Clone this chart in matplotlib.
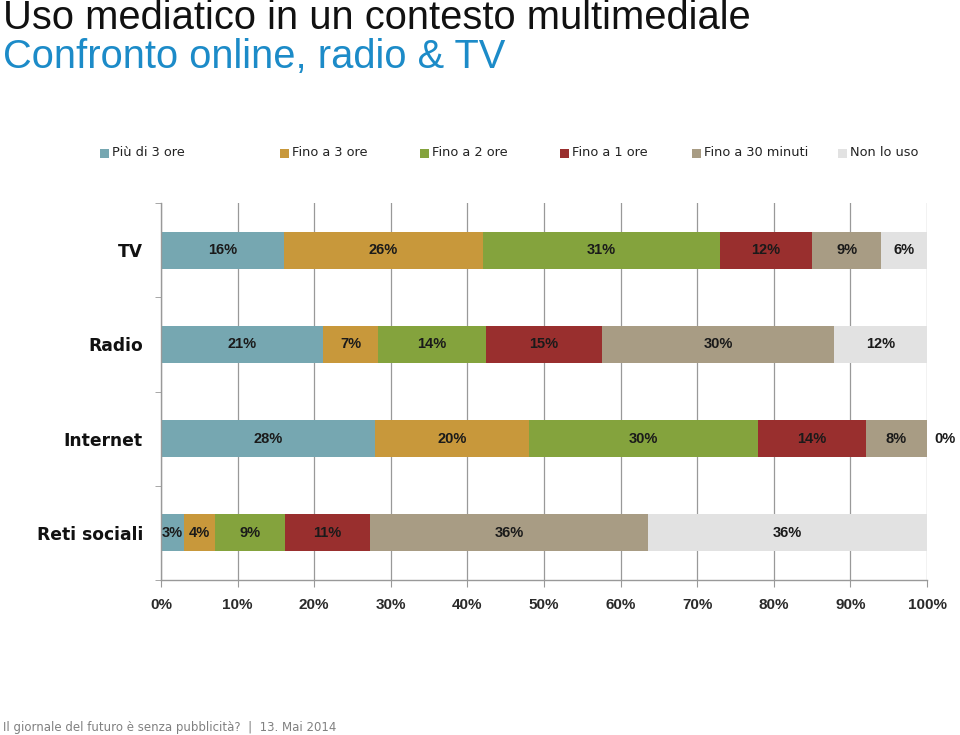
import matplotlib
matplotlib.use("Agg")
import matplotlib.pyplot as plt
from matplotlib.patches import Rectangle
import numpy as np

categories = ["TV", "Radio", "Internet", "Reti sociali"]
series_names = ["Più di 3 ore", "Fino a 3 ore", "Fino a 2 ore", "Fino a 1 ore",
                "Fino a 30 minuti", "Non lo uso"]
piu_di_3 = [16, 21, 28, 3]
fino_3 = [26, 7, 20, 4]
fino_2 = [31, 14, 30, 9]
fino_1 = [12, 15, 14, 11]
fino_30 = [9, 30, 8, 36]
non_lo_uso = [6, 12, 0, 36]
colors = ["#76A7B1", "#C8983B", "#84A33D", "#992F2E", "#A89C84", "#E2E2E2"]
x_ticks = [0, 10, 20, 30, 40, 50, 60, 70, 80, 90, 100]

series = [piu_di_3, fino_3, fino_2, fino_1, fino_30, non_lo_uso]
data = np.array(series, dtype=float)
totals = data.sum(axis=0)
share = data / totals * 100

fig = plt.figure(figsize=(9.6, 7.35), dpi=100)
ax = fig.add_axes([161/960, 1-580/735, (927-161)/960, (580-203)/735])

y = np.arange(len(categories))
left = np.zeros(len(categories))
narrow = ["Liberation Sans Narrow", "Liberation Sans", "DejaVu Sans"]
for i, (name, vals) in enumerate(zip(series_names, share)):
    ax.barh(y, vals, left=left, height=0.39, color=colors[i], edgecolor="none", zorder=2)
    for j in range(len(categories)):
        raw = series[i][j]
        if vals[j] < 1:
            ax.text(100 + 1.0, y[j], f"{raw}%", ha="left", va="center",
                    fontsize=10.5, fontweight="bold", color="#1a1a1a", family=narrow)
        else:
            ax.text(left[j] + vals[j] / 2, y[j], f"{raw}%", ha="center", va="center",
                    fontsize=10.5, fontweight="bold", color="#1a1a1a", family=narrow, zorder=3)
    left += vals

ax.set_xlim(0, 100)
ax.set_ylim(len(categories) - 0.5, -0.5)
ax.set_xticks(x_ticks)
ax.set_xticklabels([f"{t}%" for t in x_ticks], fontsize=11, fontweight="bold",
                   color="#2a2a2a", family=narrow)
ax.set_yticks(y)
ax.set_yticklabels(categories, fontsize=12.3, fontweight="bold", color="#111111")
ax.set_yticks(np.arange(len(categories) + 1) - 0.5, minor=True)
ax.tick_params(axis="y", which="major", length=0, pad=13)
ax.tick_params(axis="y", which="minor", length=4, color="#999999", direction="out")
ax.tick_params(axis="x", length=5, color="#999999", direction="out", pad=8)
ax.xaxis.grid(True, color="#999999", linewidth=0.9)
ax.set_axisbelow(True)
for s in ["top", "right"]:
    ax.spines[s].set_visible(False)
for s in ["left", "bottom"]:
    ax.spines[s].set_color("#999999")
    ax.spines[s].set_linewidth(1.0)

# Titles
fig.text(3/960, 1-18/735, "Uso mediatico in un contesto multimediale", fontsize=28.7,
         family="Liberation Sans", color="#111111", ha="left", va="center")
fig.text(3/960, 1-57/735, "Confronto online, radio & TV", fontsize=28.7,
         family="Liberation Sans", color="#1C8BC8", ha="left", va="center")

# Legend (manual placement)
leg_x = [100, 280, 420, 560, 692, 838]
for xp, name, c in zip(leg_x, series_names, colors):
    fig.add_artist(Rectangle((xp/960, 1-158/735), 9/960, 9/735, transform=fig.transFigure,
                             facecolor=c, edgecolor="none"))
    fig.text((xp + 12)/960, 1-153/735, name, fontsize=9.3, family="DejaVu Sans",
             color="#222222", ha="left", va="center")

# Footer
fig.text(3/960, 1-727/735, "Il giornale del futuro è senza pubblicità?  |  13. Mai 2014",
         fontsize=8.5, family="DejaVu Sans", color="#808080", ha="left", va="center")

fig.savefig("out.png", dpi=100)
